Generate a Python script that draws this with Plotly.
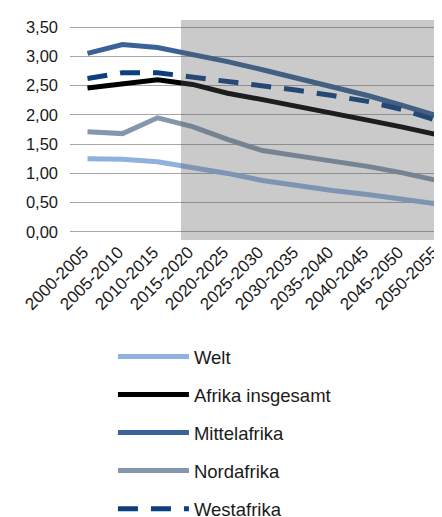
import plotly.graph_objects as go

categories = ["2000-2005", "2005-2010", "2010-2015", "2015-2020", "2020-2025",
              "2025-2030", "2030-2035", "2035-2040", "2040-2045", "2045-2050", "2050-2055"]

welt = [1.25, 1.24, 1.20, 1.11, 1.00, 0.88, 0.79, 0.71, 0.64, 0.56, 0.48]
afrika = [2.46, 2.53, 2.60, 2.52, 2.37, 2.26, 2.15, 2.03, 1.91, 1.79, 1.66]
mittelafrika = [3.05, 3.20, 3.15, 3.04, 2.91, 2.77, 2.63, 2.49, 2.33, 2.16, 1.98]
nordafrika = [1.71, 1.68, 1.95, 1.80, 1.58, 1.39, 1.30, 1.22, 1.12, 1.01, 0.88]
westafrika = [2.62, 2.72, 2.72, 2.65, 2.57, 2.50, 2.42, 2.33, 2.23, 2.09, 1.90]

series = [
    ("Welt", welt, "#8eb1dd", "solid"),
    ("Afrika insgesamt", afrika, "#000000", "solid"),
    ("Mittelafrika", mittelafrika, "#3a6298", "solid"),
    ("Nordafrika", nordafrika, "#8497ae", "solid"),
    ("Westafrika", westafrika, "#0d3f80", "20px,13px"),
]

x_idx = list(range(len(categories)))

fig = go.Figure()
for i, (name, vals, color, dash) in enumerate(series):
    fig.add_trace(go.Scatter(
        x=x_idx, y=vals, name=name, mode="lines",
        line=dict(color=color, width=5, dash=dash),
        legendgroup=f"g{i}",
    ))

# shaded projection region (drawn above lines, semi-transparent)
fig.add_shape(type="rect", xref="x", yref="paper", x0=2.67, x1=10.357, y0=0, y1=1,
              fillcolor="rgba(90,90,90,0.32)", line=dict(width=0), layer="above")

font_family = "Liberation Sans, Arial, sans-serif"

fig.update_layout(
    width=442, height=517,
    margin=dict(l=62, r=0, t=12, b=285, autoexpand=False),
    paper_bgcolor="white", plot_bgcolor="white",
    separators=",.",
    font=dict(family=font_family, size=17, color="#1a1a1a"),
    showlegend=True,
    legend=dict(
        x=0.113, y=-0.445,
        xanchor="left", yanchor="top",
        font=dict(size=18.5, color="#1a1a1a"),
        itemwidth=71, tracegroupgap=11,
        bgcolor="rgba(0,0,0,0)",
    ),
    xaxis=dict(
        range=[-0.5, 10.357], tickmode="array", tickvals=x_idx, ticktext=categories,
        tickangle=-45, showgrid=False, zeroline=False, showline=False,
        tickfont=dict(size=17, color="#1a1a1a"),
        ticklabelshift=-4, ticklabelstandoff=-2,
    ),
    yaxis=dict(
        range=[-0.137, 3.62], tickmode="array",
        tickvals=[0, 0.5, 1, 1.5, 2, 2.5, 3, 3.5], tickformat=".2f",
        showgrid=True, gridcolor="#a6a6a6", gridwidth=1.3, zeroline=False, showline=False,
        tickfont=dict(size=16.5, color="#1a1a1a"), ticklabelstandoff=11,
    ),
)

fig.write_html("out.html")
